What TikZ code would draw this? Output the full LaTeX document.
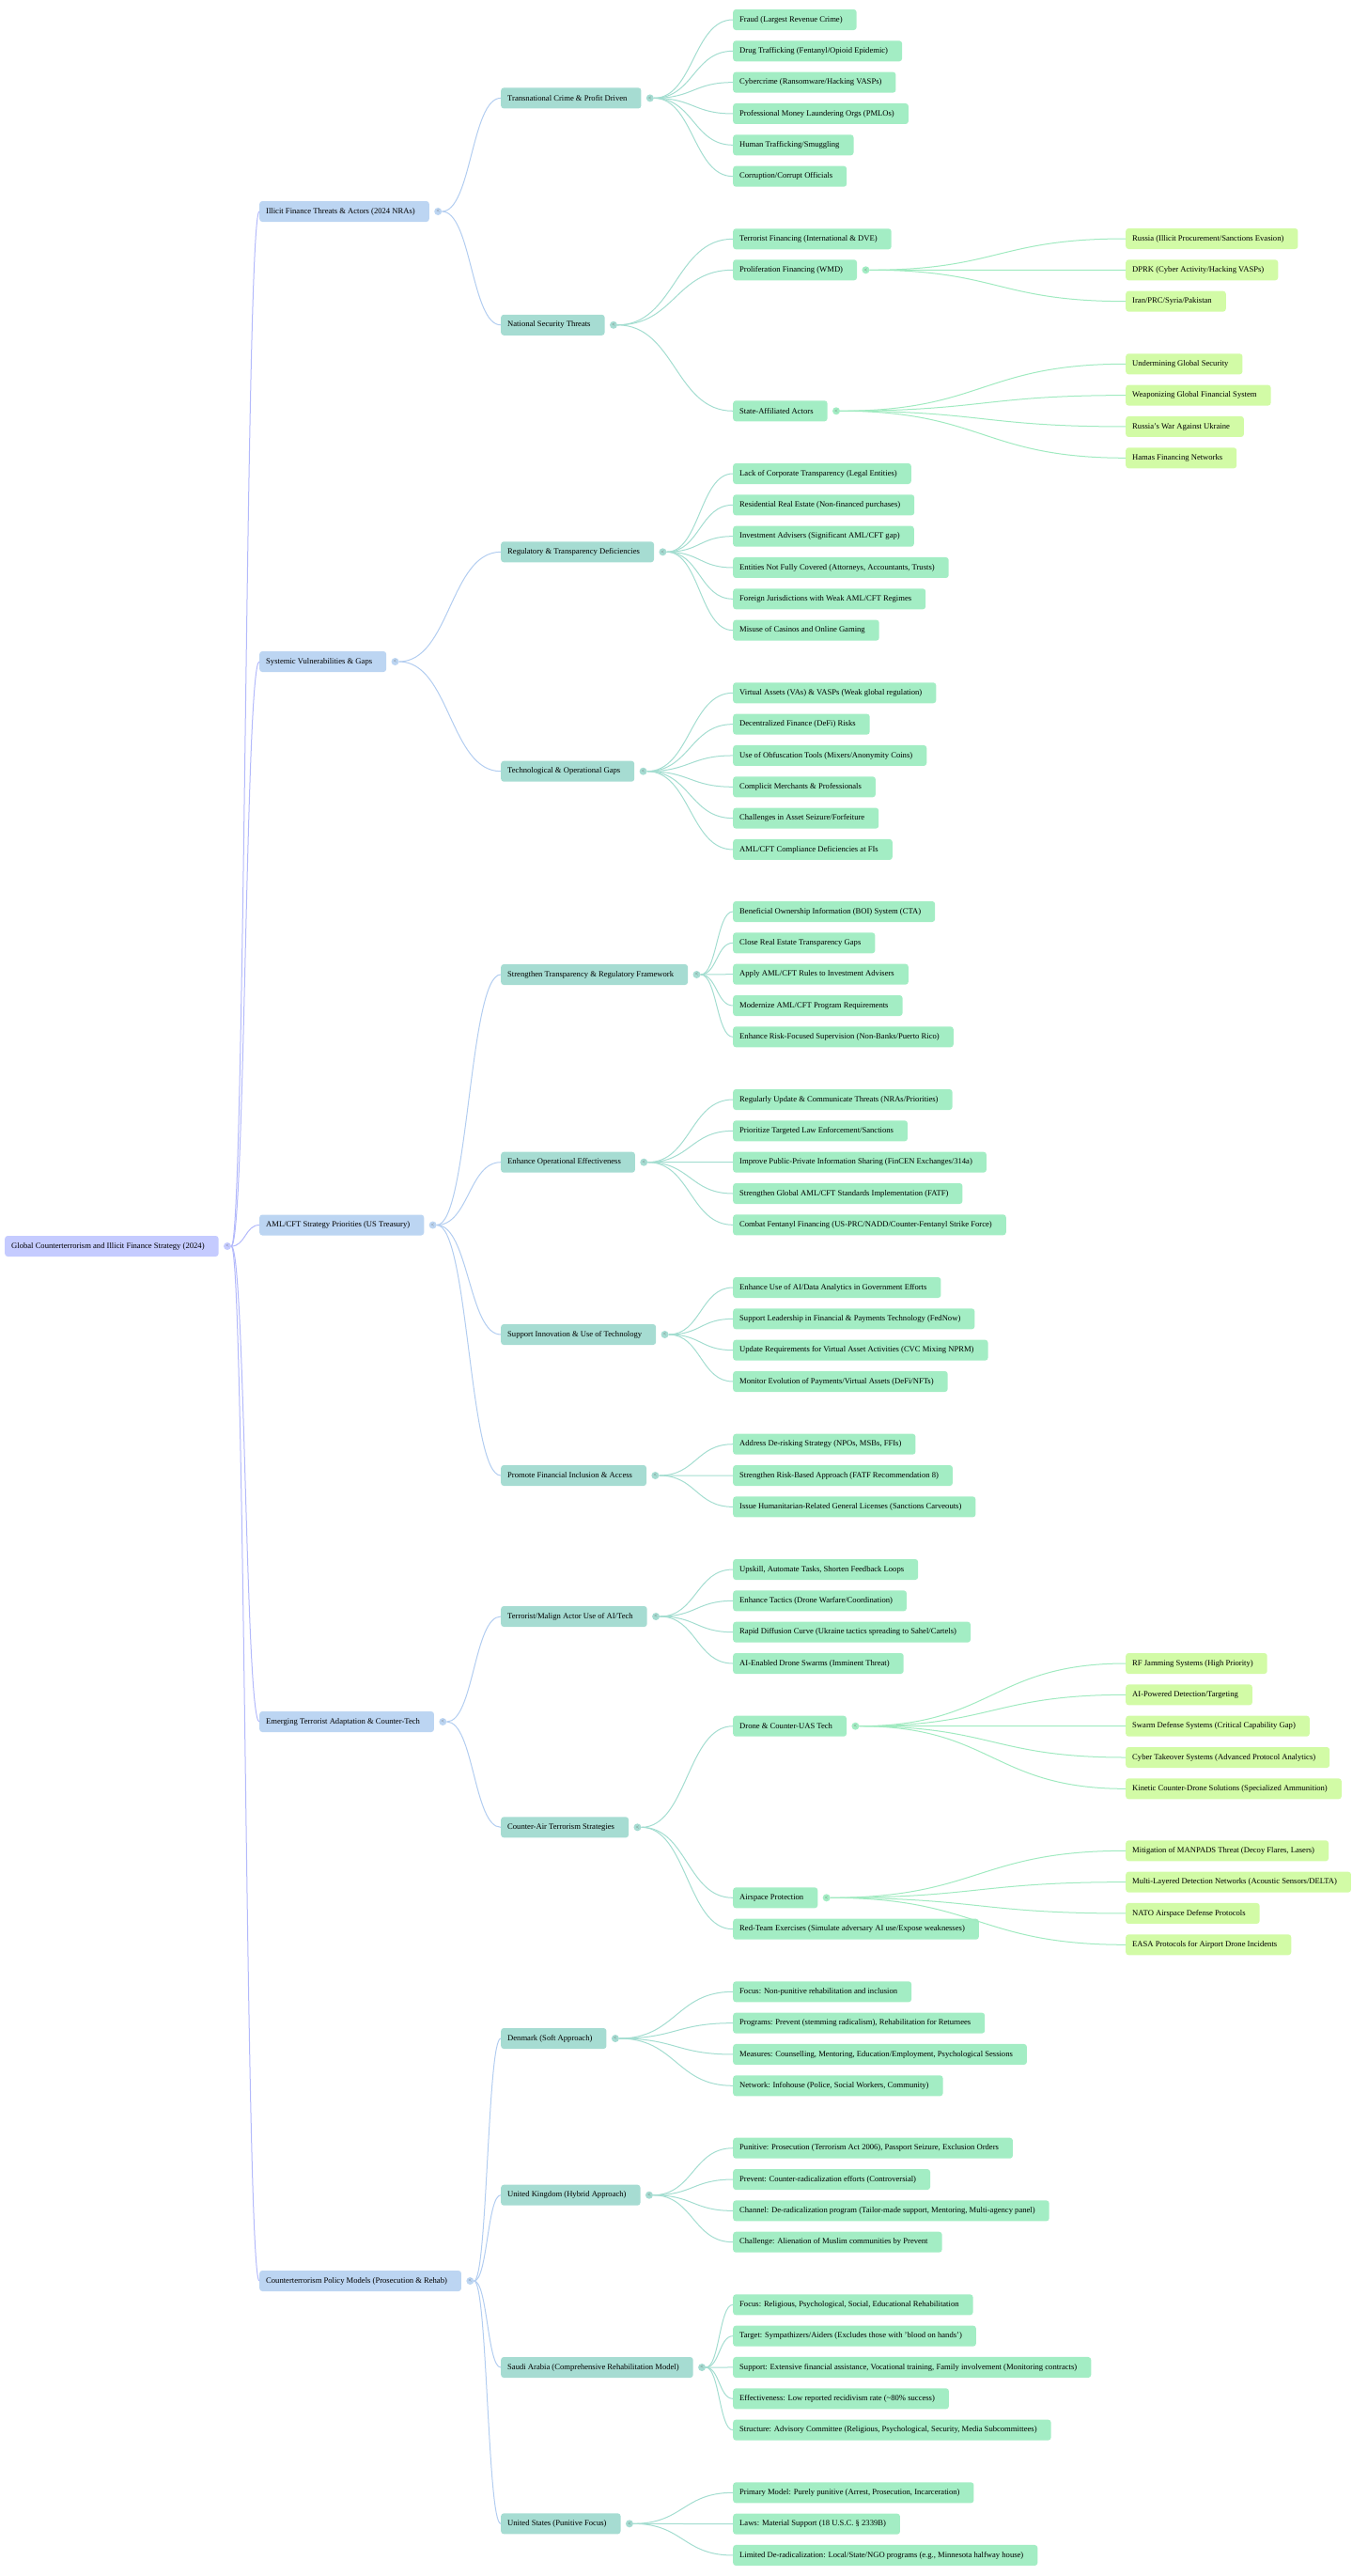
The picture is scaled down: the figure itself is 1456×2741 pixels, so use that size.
\documentclass[tikz,border=0pt]{standalone}
\usepackage{fontspec}
\setmainfont{Liberation Serif}
\usetikzlibrary{positioning,calc}

\definecolor{rootfill}{HTML}{C5CBFF}
\definecolor{onefill}{HTML}{BCD5F2}
\definecolor{twofill}{HTML}{A6DCD2}
\definecolor{threefill}{HTML}{A3EDC4}
\definecolor{fourfill}{HTML}{D2FBA6}
\definecolor{rootline}{HTML}{B3B9FB}
\definecolor{oneline}{HTML}{B2CDF0}
\definecolor{twoline}{HTML}{A3DDD0}
\definecolor{threeline}{HTML}{A0EAC0}

\begin{document}
\begin{tikzpicture}[x=1pt, y=-1pt,
		box/.style={anchor=west, rounded corners=3pt, minimum height=22pt,
			inner xsep=7pt, inner ysep=0pt, text=black,
			font=\fontsize{8.6}{10}\selectfont,
			execute at end node={\hspace*{8pt}}},
		rootbox/.style={box, fill=rootfill},
		topic/.style={box, fill=onefill},
		subtopic/.style={box, fill=twofill},
		leaf/.style={box, fill=threefill},
		subleaf/.style={box, fill=fourfill},
		knob/.style={circle, fill=#1, minimum size=8pt, inner sep=0pt,
			font=\fontsize{6}{6}\selectfont, text=black!60},
		link/.style={line width=1pt, to path={let \p1=(\tikztostart), \p2=(\tikztotarget) in
			(\p1) .. controls ({0.5*(\x1+\x2)},\y1) and ({0.5*(\x1+\x2)},\y2) .. (\p2)}}
	]
	
	\useasboundingbox (0,0) rectangle (1456,2741);
	
	% Gốc và các nhánh chính
	\node[rootbox] (root) at (5,1326) {Global Counterterrorism and Illicit Finance Strategy (2024)};
	\node[topic] (ift) at (276,225) {Illicit Finance Threats \& Actors (2024 NRAs)};
	\node[topic] (svg) at (276,704) {Systemic Vulnerabilities \& Gaps};
	\node[topic] (aml) at (276,1303.5) {AML/CFT Strategy Priorities (US Treasury)};
	\node[topic] (eta) at (276,1832) {Emerging Terrorist Adaptation \& Counter-Tech};
	\node[topic] (cpm) at (276,2427) {Counterterrorism Policy Models (Prosecution \& Rehab)};
	
	% Nhánh cấp hai
	\node[subtopic] (tcp) at (533,104.4) {Transnational Crime \& Profit Driven};
	\node[subtopic] (nst) at (533,345.8) {National Security Threats};
	\node[subtopic] (rtd) at (533,587.3) {Regulatory \& Transparency Deficiencies};
	\node[subtopic] (tgo) at (533,820.7) {Technological \& Operational Gaps};
	\node[subtopic] (stf) at (533,1037) {Strengthen Transparency \& Regulatory Framework};
	\node[subtopic] (eoe) at (533,1236.7) {Enhance Operational Effectiveness};
	\node[subtopic] (sit) at (533,1420) {Support Innovation \& Use of Technology};
	\node[subtopic] (pfi) at (533,1570) {Promote Financial Inclusion \& Access};
	\node[subtopic] (tma) at (533,1720) {Terrorist/Malign Actor Use of AI/Tech};
	\node[subtopic] (cat) at (533,1944.3) {Counter-Air Terrorism Strategies};
	\node[subtopic] (dk) at (533,2169) {Denmark (Soft Approach)};
	\node[subtopic] (uk) at (533,2335.7) {United Kingdom (Hybrid Approach)};
	\node[subtopic] (sa) at (533,2519) {Saudi Arabia (Comprehensive Rehabilitation Model)};
	\node[subtopic] (us) at (533,2685.3) {United States (Punitive Focus)};
	
	% Lá cấp ba
	\node[leaf] (nst-1) at (780,254.3) {Terrorist Financing (International \& DVE)};
	\node[leaf] (nst-2) at (780,287.3) {Proliferation Financing (WMD)};
	\node[leaf] (nst-3) at (780,437.3) {State-Affiliated Actors};
	\node[leaf] (cat-1) at (780,1836.7) {Drone \& Counter-UAS Tech};
	\node[leaf] (cat-2) at (780,2019.3) {Airspace Protection};
	\node[leaf] (cat-3) at (780,2052.7) {Red-Team Exercises (Simulate adversary AI use/Expose weaknesses)};
	
	\foreach \txt [count=\i] in {Fraud (Largest Revenue Crime), Drug Trafficking (Fentanyl/Opioid Epidemic),
		Cybercrime (Ransomware/Hacking VASPs), Professional Money Laundering Orgs (PMLOs),
		Human Trafficking/Smuggling, Corruption/Corrupt Officials}
	\node[leaf] (tcp-\i) at (780,{21+33.33*(\i-1)}) {\txt};
	
	\foreach \txt [count=\i] in {Lack of Corporate Transparency (Legal Entities),
		Residential Real Estate (Non-financed purchases), Investment Advisers (Significant AML/CFT gap),
		{Entities Not Fully Covered (Attorneys, Accountants, Trusts)},
		Foreign Jurisdictions with Weak AML/CFT Regimes, Misuse of Casinos and Online Gaming}
	\node[leaf] (rtd-\i) at (780,{504+33.33*(\i-1)}) {\txt};
	
	\foreach \txt [count=\i] in {Virtual Assets (VAs) \& VASPs (Weak global regulation),
		Decentralized Finance (DeFi) Risks, Use of Obfuscation Tools (Mixers/Anonymity Coins),
		Complicit Merchants \& Professionals, Challenges in Asset Seizure/Forfeiture,
		AML/CFT Compliance Deficiencies at FIs}
	\node[leaf] (tgo-\i) at (780,{737.3+33.33*(\i-1)}) {\txt};
	
	\foreach \txt [count=\i] in {Beneficial Ownership Information (BOI) System (CTA),
		Close Real Estate Transparency Gaps, Apply AML/CFT Rules to Investment Advisers,
		Modernize AML/CFT Program Requirements, Enhance Risk-Focused Supervision (Non-Banks/Puerto Rico)}
	\node[leaf] (stf-\i) at (780,{970+33.33*(\i-1)}) {\txt};
	
	\foreach \txt [count=\i] in {Regularly Update \& Communicate Threats (NRAs/Priorities),
		Prioritize Targeted Law Enforcement/Sanctions,
		Improve Public-Private Information Sharing (FinCEN Exchanges/314a),
		Strengthen Global AML/CFT Standards Implementation (FATF),
		Combat Fentanyl Financing (US-PRC/NADD/Counter-Fentanyl Strike Force)}
	\node[leaf] (eoe-\i) at (780,{1170+33.33*(\i-1)}) {\txt};
	
	\foreach \txt [count=\i] in {Enhance Use of AI/Data Analytics in Government Efforts,
		Support Leadership in Financial \& Payments Technology (FedNow),
		Update Requirements for Virtual Asset Activities (CVC Mixing NPRM),
		Monitor Evolution of Payments/Virtual Assets (DeFi/NFTs)}
	\node[leaf] (sit-\i) at (780,{1370+33.33*(\i-1)}) {\txt};
	
	\foreach \txt [count=\i] in {{Address De-risking Strategy (NPOs, MSBs, FFIs)},
		Strengthen Risk-Based Approach (FATF Recommendation 8),
		Issue Humanitarian-Related General Licenses (Sanctions Carveouts)}
	\node[leaf] (pfi-\i) at (780,{1536.7+33.33*(\i-1)}) {\txt};
	
	\foreach \txt [count=\i] in {{Upskill, Automate Tasks, Shorten Feedback Loops},
		Enhance Tactics (Drone Warfare/Coordination),
		Rapid Diffusion Curve (Ukraine tactics spreading to Sahel/Cartels),
		AI-Enabled Drone Swarms (Imminent Threat)}
	\node[leaf] (tma-\i) at (780,{1670+33.33*(\i-1)}) {\txt};
	
	\foreach \txt [count=\i] in {Focus: Non-punitive rehabilitation and inclusion,
		{Programs: Prevent (stemming radicalism), Rehabilitation for Returnees},
		{Measures: Counselling, Mentoring, Education/Employment, Psychological Sessions},
		{Network: Infohouse (Police, Social Workers, Community)}}
	\node[leaf] (dk-\i) at (780,{2119.3+33.33*(\i-1)}) {\txt};
	
	\foreach \txt [count=\i] in {{Punitive: Prosecution (Terrorism Act 2006), Passport Seizure, Exclusion Orders},
		Prevent: Counter-radicalization efforts (Controversial),
		{Channel: De-radicalization program (Tailor-made support, Mentoring, Multi-agency panel)},
		Challenge: Alienation of Muslim communities by Prevent}
	\node[leaf] (uk-\i) at (780,{2285.7+33.33*(\i-1)}) {\txt};
	
	\foreach \txt [count=\i] in {{Focus: Religious, Psychological, Social, Educational Rehabilitation},
		Target: Sympathizers/Aiders (Excludes those with 'blood on hands'),
		{Support: Extensive financial assistance, Vocational training, Family involvement (Monitoring contracts)},
		Effectiveness: Low reported recidivism rate (\textasciitilde80\% success),
		{Structure: Advisory Committee (Religious, Psychological, Security, Media Subcommittees)}}
	\node[leaf] (sa-\i) at (780,{2452.3+33.33*(\i-1)}) {\txt};
	
	\foreach \txt [count=\i] in {{Primary Model: Purely punitive (Arrest, Prosecution, Incarceration)},
		Laws: Material Support (18 U.S.C. \S\ 2339B),
		{Limited De-radicalization: Local/State/NGO programs (e.g., Minnesota halfway house)}}
	\node[leaf] (us-\i) at (780,{2652.3+33.33*(\i-1)}) {\txt};
	
	% Lá cấp bốn
	\foreach \txt [count=\i] in {Russia (Illicit Procurement/Sanctions Evasion),
		DPRK (Cyber Activity/Hacking VASPs), Iran/PRC/Syria/Pakistan}
	\node[subleaf] (nst-2-\i) at (1198,{254+33.33*(\i-1)}) {\txt};
	
	\foreach \txt [count=\i] in {Undermining Global Security, Weaponizing Global Financial System,
		Russia's War Against Ukraine, Hamas Financing Networks}
	\node[subleaf] (nst-3-\i) at (1198,{387.3+33.33*(\i-1)}) {\txt};
	
	\foreach \txt [count=\i] in {RF Jamming Systems (High Priority), AI-Powered Detection/Targeting,
		Swarm Defense Systems (Critical Capability Gap), Cyber Takeover Systems (Advanced Protocol Analytics),
		Kinetic Counter-Drone Solutions (Specialized Ammunition)}
	\node[subleaf] (cat-1-\i) at (1198,{1770+33.33*(\i-1)}) {\txt};
	
	\foreach \txt [count=\i] in {{Mitigation of MANPADS Threat (Decoy Flares, Lasers)},
		Multi-Layered Detection Networks (Acoustic Sensors/DELTA),
		NATO Airspace Defense Protocols, EASA Protocols for Airport Drone Incidents}
	\node[subleaf] (cat-2-\i) at (1198,{1969.3+33.33*(\i-1)}) {\txt};
	
	% Nút thu gọn
	\node[knob=rootfill, right=5pt of root] (root-t) {<};
	\foreach \nd in {ift,svg,aml,eta,cpm}
	\node[knob=onefill, right=5pt of \nd] (\nd-t) {<};
	\foreach \nd in {tcp,nst,rtd,tgo,stf,eoe,sit,pfi,tma,cat,dk,uk,sa,us}
	\node[knob=twofill, right=5pt of \nd] (\nd-t) {<};
	\foreach \nd in {nst-2,nst-3,cat-1,cat-2}
	\node[knob=threefill, right=5pt of \nd] (\nd-t) {<};
	
	% Đường nối
	\foreach \nd in {ift,svg,aml,eta,cpm}
	\draw[link, rootline] (root-t.east) to (\nd.west);
	\foreach \a/\b in {ift/tcp, ift/nst, svg/rtd, svg/tgo, aml/stf, aml/eoe, aml/sit, aml/pfi,
		eta/tma, eta/cat, cpm/dk, cpm/uk, cpm/sa, cpm/us}
	\draw[link, oneline] (\a-t.east) to (\b.west);
	\foreach \a/\k in {tcp/6, nst/3, rtd/6, tgo/6, stf/5, eoe/5, sit/4, pfi/3, tma/4, cat/3,
		dk/4, uk/4, sa/5, us/3}
	\foreach \i in {1,...,\k}
	\draw[link, twoline] (\a-t.east) to (\a-\i.west);
	\foreach \a/\k in {nst-2/3, nst-3/4, cat-1/5, cat-2/4}
	\foreach \i in {1,...,\k}
	\draw[link, threeline] (\a-t.east) to (\a-\i.west);
	
\end{tikzpicture}
\end{document}
